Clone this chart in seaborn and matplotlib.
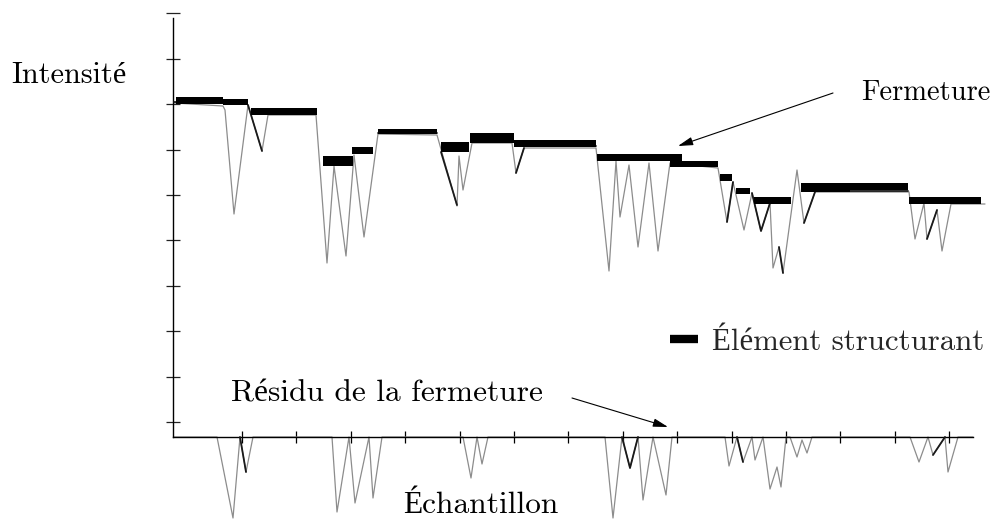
import numpy as np
import pandas as pd
import matplotlib
matplotlib.use("Agg")
import matplotlib.pyplot as plt
from matplotlib.lines import Line2D
import seaborn as sns

# ---------------- data (arbitrary units: sample, intensity) ----------------
signal_x = [1, 50, 52, 61, 75, 89, 95, 143, 154, 161, 173, 181, 191, 205, 264, 284, 286,
            290, 299, 339, 343, 351, 423, 436, 443, 447, 456, 465, 476, 485, 497, 545,
            554, 560, 571, 579, 588, 597, 600, 606, 610, 624, 631, 642, 736, 742, 751,
            754, 764, 769, 778, 812]
signal_y = [334, 331, 327, 223, 332, 286, 322, 322, 174, 271, 181, 282, 200, 303, 302, 231, 281,
            247, 294, 294, 264, 289, 289, 166, 276, 220, 272, 190, 274, 186, 274, 269,
            215, 255, 207, 244, 206, 234, 169, 190, 164, 267, 214, 245, 245, 198, 234,
            198, 227, 186, 233, 233]

closing_seg = [0, 0, 1, 1, 2, 2, 3, 3, 4, 4, 5, 5, 5, 6, 6, 7, 7, 8, 8, 9, 9, 10, 10, 11, 11]
closing_x = [1, 50, 75, 89, 268, 284, 343, 351, 554, 560, 579, 588, 597, 606, 610, 631, 642,
             754, 764, 205, 264, 351, 423, 642, 735]
closing_y = [335, 334, 332, 286, 285, 232, 264, 289, 215, 255, 244, 206, 234, 190, 164, 214, 245,
             198, 227, 304, 304, 291, 291, 246, 246]

se_start = [3, 50, 78, 150, 179, 205, 268, 297, 341, 424, 497, 547, 563, 581, 628, 677, 736]
se_end = [50, 75, 144, 180, 200, 264, 296, 341, 423, 509, 545, 559, 577, 618, 677, 735, 808]
se_low = [333, 332, 322, 271, 283, 303, 285, 294, 290, 276, 270, 256, 243, 233, 245, 247, 233]
se_high = [340, 338, 329, 281, 290, 308, 295, 304, 297, 283, 276, 263, 249, 240, 254, 254, 240]

residue_x = [0, 44, 60, 67, 73, 80, 159, 164, 176, 182, 196, 200, 209, 290, 298, 304, 309, 315,
             432, 440, 449, 457, 465, 470, 480, 493, 499, 552, 556, 564, 570, 579, 582, 590,
             597, 604, 608, 613, 617, 624, 629, 634, 639, 737, 746, 755, 760, 772, 775, 785, 800]
residue_y = [0, 0, -81, 0, -35, 0, 0, -75, 0, -66, 0, -61, 0, 0, -41, 0, -27, 0,
             0, -81, 0, -31, 0, -63, 0, -58, 0, 0, -29, 0, -25, 0, -23, 0,
             -52, -30, -50, 0, 0, -20, -3, -16, 0, 0, -25, 0, -18, 0, -35, 0, 0]

res_dark_seg = [0, 0, 1, 1, 1, 2, 2, 3, 3]
res_dark_x = [67, 73, 449, 457, 465, 564, 570, 760, 772]
res_dark_y = [0, -35, 0, -31, 0, 0, -25, -18, 0]

# ---------------- figure ----------------
sns.set_style("white")
plt.rcParams["font.family"] = ["cmr10", "Liberation Serif", "DejaVu Serif"]
plt.rcParams["axes.formatter.use_mathtext"] = True

W, H = 1003, 521
fig = plt.figure(figsize=(W / 100, H / 100), dpi=100)
ax = fig.add_axes([173 / W, 0, 830 / W, (H - 13) / H])
ax.set_xlim(0, 830)
ax.set_ylim(-84, 424)

sig = pd.DataFrame({"x": signal_x, "y": signal_y})
clo = pd.DataFrame({"x": closing_x, "y": closing_y, "seg": closing_seg})
res = pd.DataFrame({"x": residue_x, "y": residue_y})
resd = pd.DataFrame({"x": res_dark_x, "y": res_dark_y, "seg": res_dark_seg})

sns.lineplot(data=sig, x="x", y="y", sort=False, estimator=None, color="#8c8c8c",
             lw=0.9, ax=ax, zorder=2)
sns.lineplot(data=res, x="x", y="y", sort=False, estimator=None, color="#8c8c8c",
             lw=0.9, ax=ax, zorder=2)
sns.lineplot(data=clo, x="x", y="y", units="seg", sort=False, estimator=None,
             color="#1a1a1a", lw=1.3, ax=ax, zorder=3)
sns.lineplot(data=resd, x="x", y="y", units="seg", sort=False, estimator=None,
             color="#1a1a1a", lw=1.3, ax=ax, zorder=3)

se_s = np.array(se_start)
se_e = np.array(se_end)
se_l = np.array(se_low)
se_h = np.array(se_high)
ax.barh(y=se_l, width=se_e - se_s, left=se_s, height=se_h - se_l, align="edge",
        color="black", edgecolor="none", zorder=4)

# axes styling
for s in ["top", "right"]:
    ax.spines[s].set_visible(False)
ax.spines["bottom"].set_position(("data", 0))
ax.spines["bottom"].set_bounds(0, 800)
ax.spines["left"].set_bounds(0, 419)
for s in ["left", "bottom"]:
    ax.spines[s].set_color("black")
    ax.spines[s].set_linewidth(1.0)
ax.set_xticks(np.arange(69, 800, 54.4))
ax.set_yticks(np.arange(15, 430, 45.4))
ax.tick_params(axis="x", direction="inout", length=9, width=0.9, color="black",
               labelbottom=False, bottom=True)
ax.tick_params(axis="y", direction="inout", length=9.5, width=0.9, color="#222222",
               labelleft=False, left=True)
ax.set_xlabel("")
ax.set_ylabel("")
ax.grid(False)
ax.patch.set_alpha(0)

# annotations
ax.annotate("", xy=(505, 291), xytext=(660, 344),
            arrowprops=dict(arrowstyle="-|>,head_length=0.9,head_width=0.25",
                            color="black", lw=0.8, shrinkA=0, shrinkB=0))
ax.annotate("", xy=(495, 10), xytext=(399, 39),
            arrowprops=dict(arrowstyle="-|>,head_length=0.9,head_width=0.25",
                            color="black", lw=0.8, shrinkA=0, shrinkB=0))

def ftext(px, py, s, fs):
    fig.text(px / W, 1 - py / H, s, fontsize=fs, va="baseline", ha="left", color="black")

ftext(11, 83, "Intensité", 21.8)
ftext(861, 100, "Fermeture", 20.5)
ftext(231, 401, "Résidu de la fermeture", 22.6)
ftext(403, 513, "Échantillon", 22.6)

leg = ax.legend(handles=[Line2D([0], [0], color="black", lw=6, solid_capstyle="butt")],
                labels=["Élément structurant"], loc="center left",
                bbox_to_anchor=(670 / W, 1 - 342 / H), bbox_transform=fig.transFigure,
                frameon=False, borderpad=0, borderaxespad=0, handlelength=0.92,
                handletextpad=0.45, fontsize=22.2)

fig.savefig("out.png", dpi=100)
